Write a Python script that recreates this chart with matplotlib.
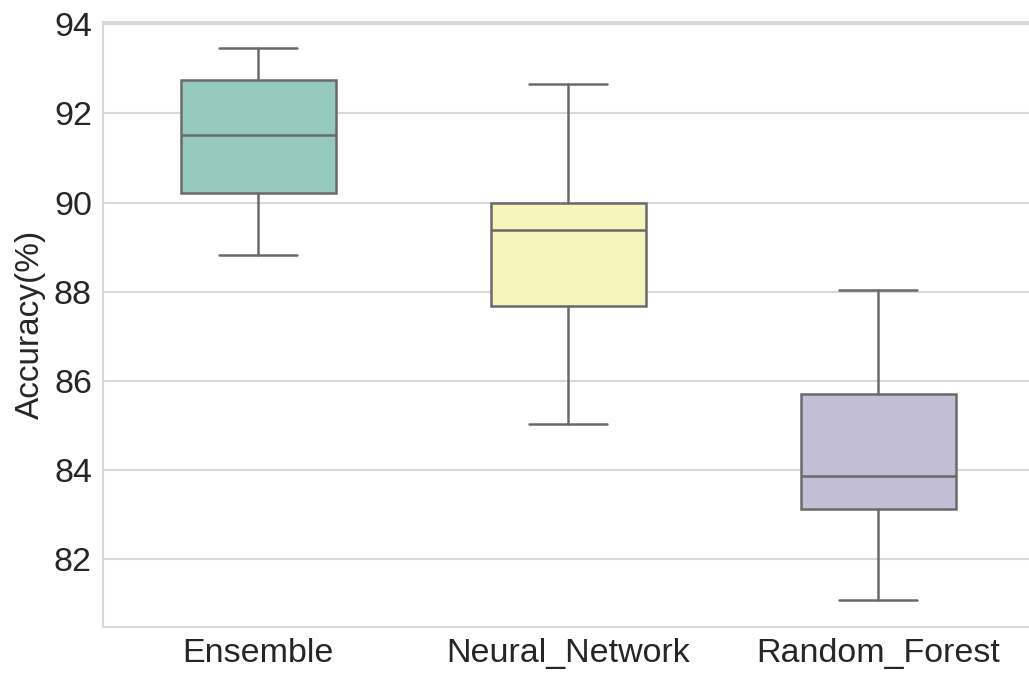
import matplotlib
matplotlib.use("Agg")
import matplotlib.pyplot as plt
import seaborn as sns

models = ["Ensemble", "Neural_Network", "Random_Forest"]
whislo = [88.83, 85.03, 81.08]
q1 = [90.22, 87.69, 83.12]
med = [91.51, 89.39, 83.87]
q3 = [92.76, 89.98, 85.71]
whishi = [93.46, 92.65, 88.04]

sns.set_style("whitegrid")
plt.rcParams["font.family"] = ["Liberation Sans", "DejaVu Sans"]

fig = plt.figure(figsize=(10.29, 6.74), dpi=100)
ax = fig.add_axes([103 / 1029, 47 / 674, 930 / 1029, 605 / 674])

stats = []
for i, m in enumerate(models):
    stats.append(dict(label=m, whislo=whislo[i], q1=q1[i], med=med[i],
                      q3=q3[i], whishi=whishi[i], fliers=[]))

line_c = "#6a6a6a"
bp = ax.bxp(stats, positions=range(len(models)), widths=0.5, patch_artist=True,
            showfliers=False,
            boxprops=dict(edgecolor=line_c, linewidth=1.8),
            medianprops=dict(color=line_c, linewidth=1.8),
            whiskerprops=dict(color=line_c, linewidth=1.8),
            capprops=dict(color=line_c, linewidth=1.8))
pal = sns.color_palette("Set3", 3)
for patch, c in zip(bp["boxes"], pal):
    patch.set_facecolor(sns.desaturate(c, 0.75))

ax.set_xlim(-0.5, 2.5)
ax.set_ylim(80.48, 94.05)
ax.set_yticks([82, 84, 86, 88, 90, 92, 94])
ax.set_ylabel("Accuracy(%)", fontsize=24, color="#262626", labelpad=6)
ax.tick_params(axis="both", labelsize=24.5, colors="#262626", length=0, pad=8)
ax.xaxis.grid(False)
ax.yaxis.grid(True, color="#d9d9d9", linewidth=1.5)
for s in ax.spines.values():
    s.set_edgecolor("#d9d9d9")
    s.set_linewidth(1.5)

fig.savefig("out.png", dpi=100)
